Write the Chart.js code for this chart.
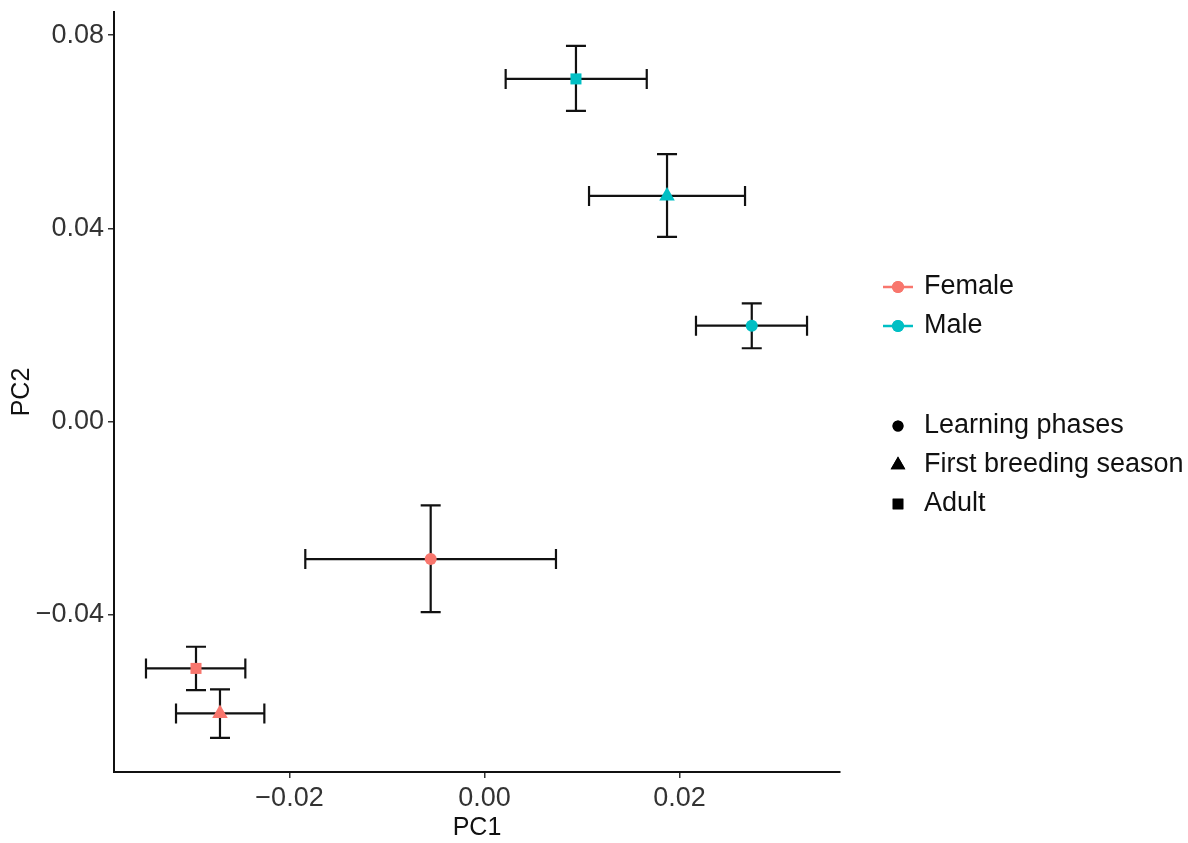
<!DOCTYPE html>
<html>
<head>
    <title>PCA by sex and life stage</title>
    <style>
        body {
            margin: 0;
            background: #fff;
        }
        canvas {
            display: block;
        }
    </style>
    <script src="https://cdn.jsdelivr.net/npm/chart.js"></script>
</head>
<body>
    <canvas id="pcaChart" width="1188" height="843"></canvas>

    <script>
        // group labels and styling keys
        const sexes = ['Female', 'Male'];
        const sexColors = ['#F8766D', '#00BFC4'];
        const stages = ['Learning phases', 'First breeding season', 'Adult'];
        const stageShapes = ['circle', 'triangle', 'rect'];
        const stageRadius = [6, 9, 7.8];

        // means and error bar limits, ordered as in `stages`
        const femalePC1 = [-0.00552, -0.02713, -0.02959];
        const femalePC2 = [-0.02843, -0.06037, -0.05106];
        const femalePC1Low = [-0.01838, -0.03164, -0.03472];
        const femalePC1High = [0.00733, -0.02258, -0.02453];
        const femalePC2Low = [-0.03940, -0.06542, -0.05555];
        const femalePC2High = [-0.01731, -0.05540, -0.04658];

        const malePC1 = [0.02741, 0.01872, 0.00938];
        const malePC2 = [0.01988, 0.04673, 0.07095];
        const malePC1Low = [0.02169, 0.01072, 0.00217];
        const malePC1High = [0.03308, 0.02672, 0.01664];
        const malePC2Low = [0.01520, 0.03824, 0.06433];
        const malePC2High = [0.02451, 0.05538, 0.07779];

        // axis ticks
        const xTickValues = [-0.02, 0, 0.02];
        const xTickLabels = ['\u22120.02', '0.00', '0.02'];
        const yTickValues = [-0.04, 0, 0.04, 0.08];
        const yTickLabels = ['\u22120.04', '0.00', '0.04', '0.08'];

        const FONT = '"Liberation Sans", Arial, sans-serif';

        function makePoints(pc1, pc2, pc1Low, pc1High, pc2Low, pc2High) {
            return pc1.map((x, i) => ({
                x: x, y: pc2[i],
                xMin: pc1Low[i], xMax: pc1High[i],
                yMin: pc2Low[i], yMax: pc2High[i]
            }));
        }

        const groups = [
            makePoints(femalePC1, femalePC2, femalePC1Low, femalePC1High, femalePC2Low, femalePC2High),
            makePoints(malePC1, malePC2, malePC1Low, malePC1High, malePC2Low, malePC2High)
        ];

        // crosshair error bars, drawn under the points
        const errorBars = {
            id: 'errorBars',
            beforeDatasetsDraw(chart) {
                const ctx = chart.ctx;
                const xs = chart.scales.x;
                const ys = chart.scales.y;
                const cap = 10;
                ctx.save();
                ctx.strokeStyle = '#111';
                ctx.lineWidth = 2.2;
                chart.data.datasets.forEach(ds => {
                    ds.data.forEach(p => {
                        const px = xs.getPixelForValue(p.x);
                        const py = ys.getPixelForValue(p.y);
                        const x0 = xs.getPixelForValue(p.xMin);
                        const x1 = xs.getPixelForValue(p.xMax);
                        const y0 = ys.getPixelForValue(p.yMin);
                        const y1 = ys.getPixelForValue(p.yMax);
                        ctx.beginPath();
                        ctx.moveTo(x0, py); ctx.lineTo(x1, py);
                        ctx.moveTo(x0, py - cap); ctx.lineTo(x0, py + cap);
                        ctx.moveTo(x1, py - cap); ctx.lineTo(x1, py + cap);
                        ctx.moveTo(px, y0); ctx.lineTo(px, y1);
                        ctx.moveTo(px - cap, y0); ctx.lineTo(px + cap, y0);
                        ctx.moveTo(px - cap, y1); ctx.lineTo(px + cap, y1);
                        ctx.stroke();
                    });
                });
                ctx.restore();
            }
        };

        // two-part legend on the right: colour by sex, shape by stage
        const sideLegend = {
            id: 'sideLegend',
            afterDraw(chart) {
                const ctx = chart.ctx;
                const keyX = 898;
                const textX = 924;
                ctx.save();
                ctx.font = '27px ' + FONT;
                ctx.textBaseline = 'middle';
                ctx.textAlign = 'left';

                const sexY = [287, 326];
                sexes.forEach((name, i) => {
                    ctx.strokeStyle = sexColors[i];
                    ctx.lineWidth = 2.5;
                    ctx.beginPath();
                    ctx.moveTo(883, sexY[i]);
                    ctx.lineTo(913, sexY[i]);
                    ctx.stroke();
                    ctx.fillStyle = sexColors[i];
                    Chart.helpers.drawPoint(ctx, { pointStyle: 'circle', radius: 6, borderWidth: 0 }, keyX, sexY[i]);
                    ctx.fill();
                    ctx.fillStyle = '#111';
                    ctx.fillText(name, textX, sexY[i]);
                });

                const stageY = [426, 465, 504];
                const keyRadius = [5.5, 8.5, 7.5];
                stages.forEach((name, i) => {
                    ctx.fillStyle = '#000';
                    ctx.beginPath();
                    Chart.helpers.drawPoint(ctx, { pointStyle: stageShapes[i], radius: keyRadius[i], borderWidth: 0 }, keyX, stageY[i]);
                    ctx.fill();
                    ctx.fillStyle = '#111';
                    ctx.fillText(name, textX, stageY[i]);
                });
                ctx.restore();
            }
        };

        function axisOptions(min, max, tickValues, tickLabels, title, size, titlePad) {
            return {
                type: 'linear',
                min: min,
                max: max,
                afterFit(scale) {
                    if (scale.isHorizontal()) scale.height = size;
                    else scale.width = size;
                    // keep tick label overhang from pushing the plot area in
                    scale.paddingTop = 0;
                    scale.paddingBottom = 0;
                    scale.paddingLeft = 0;
                    scale.paddingRight = 0;
                },
                afterBuildTicks(scale) {
                    scale.ticks = tickValues.map(v => ({ value: v }));
                },
                ticks: {
                    autoSkip: false,
                    maxRotation: 0,
                    padding: 4,
                    color: '#333',
                    font: { family: FONT, size: 27 },
                    callback: (value, index) => tickLabels[index]
                },
                grid: {
                    display: true,
                    drawOnChartArea: false,
                    drawTicks: true,
                    tickLength: 6,
                    color: '#333',
                    lineWidth: 1.5
                },
                border: { display: true, color: '#111', width: 2 },
                title: {
                    display: true,
                    text: title,
                    color: '#111',
                    font: { family: FONT, size: 25 },
                    padding: { top: titlePad, bottom: 0 }
                }
            };
        }

        new Chart(document.getElementById('pcaChart'), {
            type: 'scatter',
            data: {
                datasets: groups.map((pts, i) => ({
                    label: sexes[i],
                    data: pts,
                    backgroundColor: sexColors[i],
                    borderWidth: 0,
                    pointStyle: stageShapes,
                    pointRadius: stageRadius,
                    pointBorderWidth: 0
                }))
            },
            options: {
                responsive: false,
                animation: false,
                devicePixelRatio: 1,
                layout: { padding: { top: 12, right: 348, left: 0, bottom: 0 } },
                scales: {
                    x: axisOptions(-0.0380, 0.03646, xTickValues, xTickLabels, 'PC1', 71, 0),
                    y: axisOptions(-0.0725, 0.0848, yTickValues, yTickLabels, 'PC2', 114, 7)
                },
                plugins: {
                    legend: { display: false },
                    tooltip: { enabled: false }
                }
            },
            plugins: [errorBars, sideLegend]
        });
    </script>
</body>
</html>
